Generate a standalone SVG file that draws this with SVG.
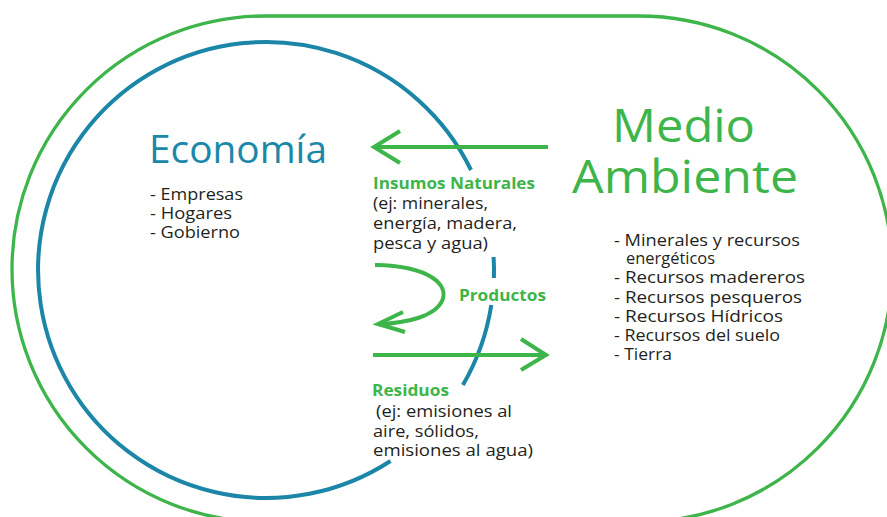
<svg xmlns="http://www.w3.org/2000/svg" width="887" height="517" viewBox="0 0 887 517">
  <style>
    text { font-family: "Open Sans", "Noto Sans", "Liberation Sans", sans-serif; }
    .body { font-size: 16.2px; fill: #231f20; }
    .lbl { font-size: 16px; font-weight: bold; fill: #3db54a; }
    .green-line { fill: none; stroke: #3db54a; stroke-width: 3.3; }
    .blue-line { fill: none; stroke: #1b86a7; stroke-width: 4; }
    .arrow { fill: none; stroke: #3db54a; stroke-width: 4; stroke-linejoin: miter; }
  </style>
  <rect width="887" height="517" fill="#ffffff"/>

  <g id="medio-ambiente">
    <path class="green-line" d="M265,16 H639 A253,253 0 0 1 639,522 H265 A253,253 0 0 1 265,16 Z"/>
    <text x="612" y="142" font-size="46" fill="#3db54a" textLength="143" lengthAdjust="spacingAndGlyphs">Medio</text>
    <text x="572" y="193" font-size="46" fill="#3db54a" textLength="226" lengthAdjust="spacingAndGlyphs">Ambiente</text>
    <text class="body" x="614" y="246" textLength="186" lengthAdjust="spacingAndGlyphs">- Minerales y recursos</text>
    <text class="body" x="626" y="263.5" textLength="89" lengthAdjust="spacingAndGlyphs">energéticos</text>
    <text class="body" x="614" y="283" textLength="191" lengthAdjust="spacingAndGlyphs">- Recursos madereros</text>
    <text class="body" x="614" y="302.5" textLength="188" lengthAdjust="spacingAndGlyphs">- Recursos pesqueros</text>
    <text class="body" x="614" y="321.5" textLength="169" lengthAdjust="spacingAndGlyphs">- Recursos Hídricos</text>
    <text class="body" x="614" y="340.5" textLength="166" lengthAdjust="spacingAndGlyphs">- Recursos del suelo</text>
    <text class="body" x="614" y="359.5" textLength="58" lengthAdjust="spacingAndGlyphs">- Tierra</text>
  </g>

  <g id="economia">
    <path class="blue-line" d="M390.5,461 A228,228 0 1 1 471,170"/>
    <path class="blue-line" d="M493.6,257 A228,228 0 0 1 493.9,278"/>
    <path class="blue-line" d="M491.3,305 A228,228 0 0 1 462.9,385"/>
    <text x="149" y="163" font-size="38" fill="#1b88a9" textLength="178" lengthAdjust="spacingAndGlyphs">Economía</text>
    <text class="body" x="150" y="200" textLength="93" lengthAdjust="spacingAndGlyphs">- Empresas</text>
    <text class="body" x="150" y="219.3" textLength="82" lengthAdjust="spacingAndGlyphs">- Hogares</text>
    <text class="body" x="150" y="238.3" textLength="90" lengthAdjust="spacingAndGlyphs">- Gobierno</text>
  </g>

  <g id="connectors">
    <g id="insumos">
      <path class="arrow" d="M548,147 H375"/>
      <path class="arrow" d="M400,131 L374,147 L400,163"/>
      <text class="lbl" x="373" y="189" textLength="162" lengthAdjust="spacingAndGlyphs">Insumos Naturales</text>
      <text class="body" x="373" y="209" textLength="115" lengthAdjust="spacingAndGlyphs">(ej: minerales,</text>
      <text class="body" x="373" y="229" textLength="144" lengthAdjust="spacingAndGlyphs">energía, madera,</text>
      <text class="body" x="373" y="248.5" textLength="115" lengthAdjust="spacingAndGlyphs">pesca y agua)</text>
    </g>
    <g id="productos">
      <path class="arrow" d="M375,265 C432,266 449,286 442,301 C435,316 408,323 379,324"/>
      <path class="arrow" d="M403,312 L378,324 L405,332"/>
      <text class="lbl" x="459" y="301" textLength="87" lengthAdjust="spacingAndGlyphs">Productos</text>
    </g>
    <g id="residuos">
      <path class="arrow" d="M373,355 H545"/>
      <path class="arrow" d="M521,339 L546,355 L521,370"/>
      <text class="lbl" x="372" y="396" textLength="77" lengthAdjust="spacingAndGlyphs">Residuos</text>
      <text class="body" x="376" y="416.5" textLength="136" lengthAdjust="spacingAndGlyphs">(ej: emisiones al</text>
      <text class="body" x="373" y="436.5" textLength="106" lengthAdjust="spacingAndGlyphs">aire, sólidos,</text>
      <text class="body" x="373" y="456" textLength="160" lengthAdjust="spacingAndGlyphs">emisiones al agua)</text>
    </g>
  </g>
</svg>
